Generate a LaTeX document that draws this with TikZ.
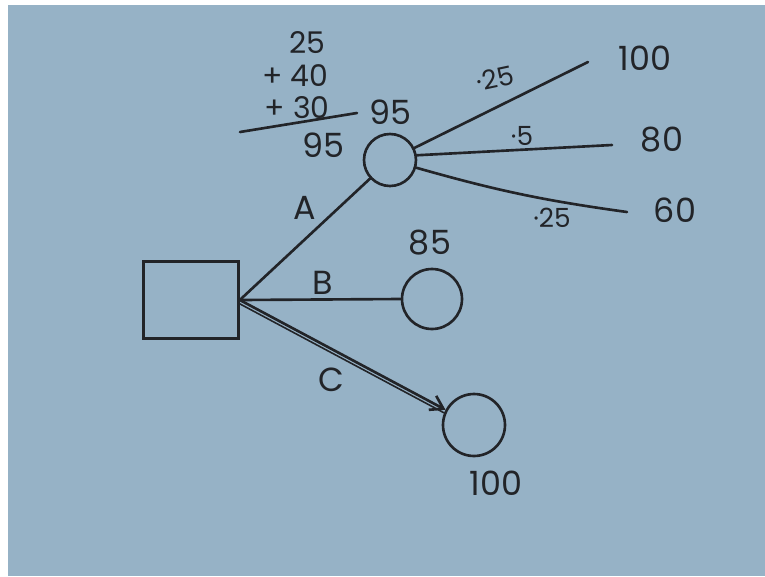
\documentclass[tikz,border=0pt]{standalone}
\usepackage{fontspec}
\setmainfont{Poppins}
\usetikzlibrary{positioning}
\usetikzlibrary{arrows.meta}
\definecolor{board}{RGB}{150,178,198}
\definecolor{ink}{RGB}{34,36,40}
\tikzset{pen/.style = {draw=ink, line width=1.5pt, line cap=round}}
\tikzset{choice/.style = {pen, rectangle, minimum width=1.9cm, minimum height=1.54cm, inner sep=0}}
\tikzset{chance/.style = {pen, circle, inner sep=0}}
\tikzset{hand/.style = {text=ink, font=\fontsize{19}{19}\selectfont, inner sep=0}}
\tikzset{sum/.style = {text=ink, font=\fontsize{17}{17}\selectfont, inner sep=0}}
\tikzset{prob/.style = {text=ink, font=\fontsize{15}{15}\selectfont, inner sep=0}}

\begin{document}
\begin{tikzpicture}[x=0.02cm, y=-0.02cm]
      % board
      \fill[white] (0,0) rectangle (765,576);
      \fill[board] (8,5) rectangle (765,576);
      \useasboundingbox (0,0) rectangle (765,576);

      % decision and chance nodes
      \node[choice] (dec) at (191,300) {};
      \node[chance, minimum size=1.04cm] (ca) at (390,160) {};
      \node[chance, minimum size=1.2cm] (cb) at (432,299) {};
      \node[chance, minimum size=1.24cm] (cc) at (474,425) {};

      % alternatives
      \draw[pen] (dec.east) -- (ca);
      \draw[pen] (dec.east) -- (cb.west);
      \draw[pen, -{Straight Barb[length=7pt, width=9pt]}] (dec.east) -- (cc);
      \draw[pen, line width=0.9pt, transform canvas={xshift=-0.9pt, yshift=-1.7pt}] (dec.east) -- (cc);
      \node[hand] (la) at (305,208) {A};
      \node[hand] (lb) at (323,283) {B};
      \node[hand] (lc) at (331,380) {C};
      \node[hand] (vb) at (430,243) {85};
      \node[hand] (vc) at (496,483) {100};

      % outcomes of A
      \coordinate (e1) at (588,62);
      \coordinate (e2) at (612,145);
      \coordinate (e3) at (627,212);
      \draw[pen] (ca) -- (e1);
      \draw[pen] (ca.10) -- (e2);
      \draw[pen] (ca) to[bend right=4] (e3);
      \node[hand] (p1) at (645,58) {100};
      \node[hand] (p2) at (662,140) {80};
      \node[hand] (p3) at (675,210) {60};
      \node[prob, rotate=12] (q1) at (495,78) {·25};
      \node[prob] (q2) at (522,136) {·5};
      \node[prob] (q3) at (552,218) {·25};
      \node[hand] (ev) at (390,112) {95};

      % expected value
      \node[sum] (n1) at (307,43) {25};
      \node[sum] (n2) at (295,76) {+ 40};
      \node[sum] (n3) at (297,108) {+ 30};
      \coordinate (s1) at (240,132);
      \coordinate (s2) at (357,113);
      \draw[pen] (s1) -- (s2);
      \node[hand] (tot) at (323,145) {95};
\end{tikzpicture}
\end{document}
